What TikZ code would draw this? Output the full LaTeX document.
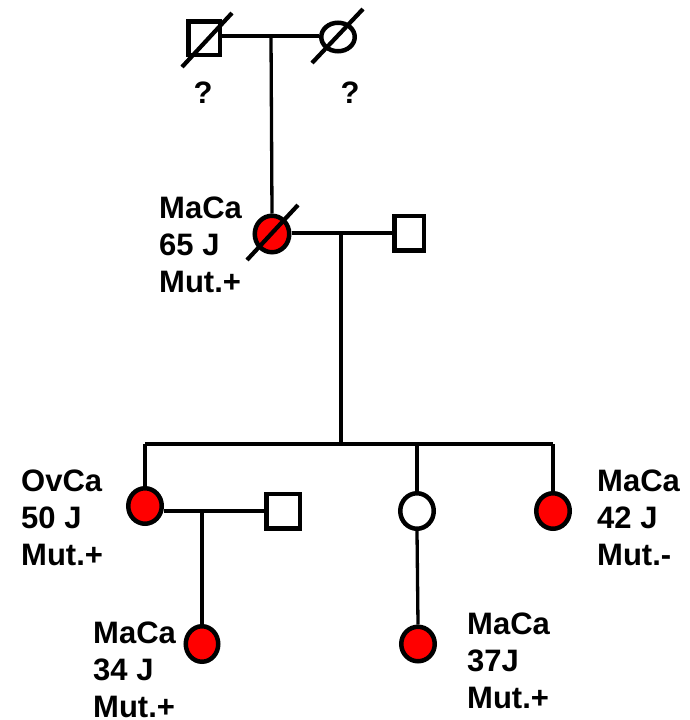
\documentclass[tikz,border=0pt]{standalone}
\usepackage{fontspec}
\setmainfont{Liberation Sans}
\usetikzlibrary{shapes.geometric,calc}
\definecolor{affred}{RGB}{255,0,0}
\tikzset{
  conn/.style={line width=3.3pt},
  mal/.style={draw, line width=4.5pt, rectangle, fill=white, inner sep=0pt},
  fem/.style={draw, line width=4.5pt, ellipse, fill=white, inner sep=0pt},
  aff/.style={fill=affred},
  dec/.style={line width=4.2pt},
  lbl/.style={inner sep=0pt, align=left, anchor=base west, font=\bfseries\fontsize{31}{37}\selectfont},
  qm/.style={inner sep=0pt, anchor=base, font=\bfseries\fontsize{31}{37}\selectfont}
}
\begin{document}
\begin{tikzpicture}[x=1pt,y=-1pt]
\useasboundingbox[fill=white] (0,0) rectangle (689,720);
% generation I
\node[mal, minimum width=31.5pt, minimum height=33.5pt] (gf) at (204,38) {};
\node[fem, minimum width=33.5pt, minimum height=28.5pt] (gm) at (338,37) {};
% generation II
\node[fem, aff, minimum width=34.5pt, minimum height=36.5pt] (mo) at (272,234) {};
\node[mal, minimum width=29.5pt, minimum height=34.5pt] (fa) at (409,233) {};
% generation III
\node[fem, aff, minimum width=33.5pt, minimum height=35.5pt] (d1) at (145,506) {};
\node[mal, minimum width=33.5pt, minimum height=34.5pt] (h1) at (283,511) {};
\node[fem, minimum width=33.5pt, minimum height=35.5pt] (d2) at (417,511) {};
\node[fem, aff, minimum width=33.5pt, minimum height=35.5pt] (d3) at (553,511) {};
% generation IV
\node[fem, aff, minimum width=32.5pt, minimum height=35.5pt] (g1) at (202,644) {};
\node[fem, aff, minimum width=33.5pt, minimum height=34.5pt] (g2) at (418,644) {};

\coordinate (c1) at (271,36);
\coordinate (c2) at (341,233);
\coordinate (s) at (341,444);
\coordinate (sl) at (145,444);
\coordinate (sr) at (553,444);
\coordinate (c3) at (202,511);

% connectors
\draw[conn] (gf.east |- c1) -- (gm.west |- c1);
\draw[conn] (c1) -- (mo.north);
\draw[conn] (mo.east |- c2) -- (fa.west |- c2);
\draw[conn] (c2) -- (s);
\draw[conn] (sl) -- (sr);
\draw[conn] (sl) -- (d1.north);
\draw[conn] (d2.north |- s) -- (d2.north);
\draw[conn] (sr) -- (d3.north);
\draw[conn] (d1.east |- c3) -- (h1.west);
\draw[conn] (c3) -- (g1.north);
\draw[conn] (d2.south) -- (g2.north);

% deceased marks
\draw[dec] ($(gf)+(-22,29)$) -- ($(gf)+(28,-25)$);
\draw[dec] ($(gm)+(-26,26)$) -- ($(gm)+(25,-28)$);
\draw[dec] ($(mo)+(-25,26)$) -- ($(mo)+(26,-29)$);

% labels (anchor = baseline of last line)
\node[qm] (q1) at (203,103) {?};
\node[qm] (q2) at (350,103) {?};
\node[lbl] (t1) at (159,292) {MaCa\\65 J\\Mut.+};
\node[lbl] (t2) at (21,565) {OvCa\\50 J\\Mut.+};
\node[lbl] (t3) at (597,565) {MaCa\\42 J\\Mut.-};
\node[lbl] (t4) at (93,717) {MaCa\\34 J\\Mut.+};
\node[lbl] (t5) at (467,708) {MaCa\\37J\\Mut.+};
\end{tikzpicture}
\end{document}
